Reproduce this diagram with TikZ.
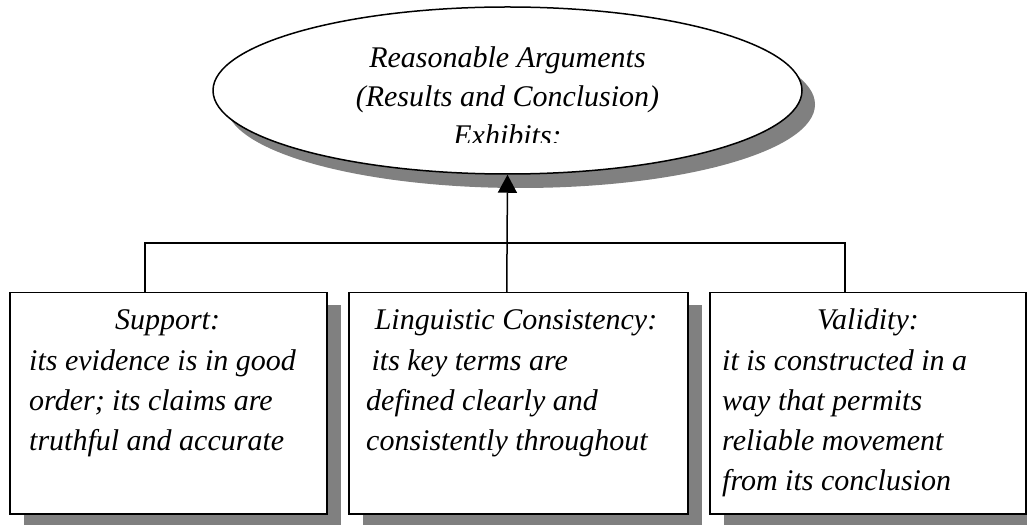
\documentclass[tikz,border=0pt]{standalone}
\usepackage{fontspec}
\setmainfont{Liberation Serif}[ItalicFont={Liberation Serif Italic}]
\newfontfamily\timesit{Liberation Serif Italic}
\usetikzlibrary{calc,shapes.geometric,arrows.meta}
\begin{document}
\begin{tikzpicture}[x=1pt,y=1pt,
  txt/.style={font=\fontsize{30}{40}\selectfont\timesit, inner sep=0pt},
  shade/.style={fill=black!50, draw=none},
  framebox/.style={draw=black, line width=1.5pt, fill=white, rectangle, inner sep=0pt},
  link/.style={draw=black, line width=1.5pt}]
\useasboundingbox (0,0) rectangle (1027,525);

% top ellipse with its drop shadow
\fill[shade] (520.5,420.5) ellipse [x radius=294.5, y radius=83.5];
\node[framebox, ellipse, minimum width=589pt, minimum height=167pt] (top) at (507.5,434.5) {};
\begin{scope}
  \clip (0,382) rectangle (1027,525);
  \node[txt, anchor=base] (h1) at (507.5,457) {Reasonable Arguments};
  \node[txt, anchor=base] (h2) at (507.5,418) {(Results and Conclusion)};
  \node[txt, anchor=base] (h3) at (507.5,379) {Exhibits:};
\end{scope}

% the three boxes with their shadows
\fill[shade] (24,0) rectangle (341,220);
\fill[shade] (363,0) rectangle (702,220);
\fill[shade] (724,0) rectangle (1040,220);
\node[framebox, minimum width=317pt, minimum height=221pt, anchor=north west] (b1) at (9,233) {};
\node[framebox, minimum width=339pt, minimum height=221pt, anchor=north west] (b2) at (348,233) {};
\node[framebox, minimum width=316pt, minimum height=221pt, anchor=north west] (b3) at (709,233) {};

% box titles
\node[txt, anchor=base] (t1) at (167.5,195) {Support:};
\node[txt, anchor=base] (t2) at (516,195) {Linguistic Consistency:};
\node[txt, anchor=base] (t3) at (868,195) {Validity:};

% box bodies
\node[txt, anchor=north west, align=left] (d1) at (29,183)
  {\strut its evidence is in good\\order; its claims are\\truthful and accurate};
\node[txt, anchor=north west, align=left] (d2) at (366,183)
  {\strut\hspace*{0.18em}its key terms are\\defined clearly and\\consistently throughout};
\node[txt, anchor=north west, align=left] (d3) at (722,183)
  {\strut it is constructed in a\\way that permits\\reliable movement\\from its conclusion};

% connectors
\coordinate (j) at (506,282);
\coordinate (c1) at ($(b1.north)+(-23.5,0)$);
\coordinate (c3) at ($(b3.north)+(-23,0)$);
\draw[link] (c1) |- (j) -| (c3);
\draw[link, -{Triangle[width=19pt,length=18pt]}] ($(b2.north)+(-11.5,0)$) -- (top.south);
\end{tikzpicture}
\end{document}
